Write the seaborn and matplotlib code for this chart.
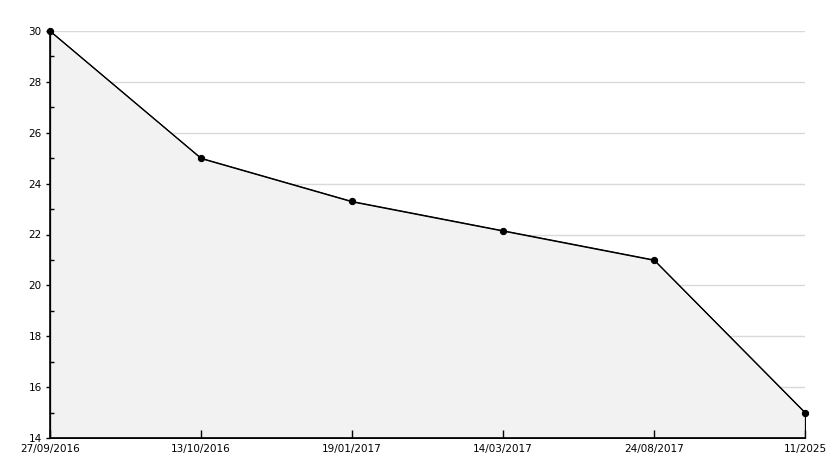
import numpy as np
import pandas as pd
import matplotlib
matplotlib.use("Agg")
import matplotlib.pyplot as plt
import seaborn as sns
from matplotlib.ticker import MultipleLocator

dates = ["27/09/2016", "13/10/2016", "19/01/2017", "14/03/2017", "24/08/2017", "11/2025"]
values = [30, 25, 23.3, 22.15, 21, 15]
grid_levels = [16, 18, 20, 22, 24, 26, 28, 30]

df = pd.DataFrame({"pos": np.arange(len(dates)), "value": values})

sns.set_style("ticks")
plt.rcParams['font.family'] = ['DejaVu Sans']
plt.rcParams['text.color'] = 'black'
plt.rcParams['xtick.color'] = 'black'
plt.rcParams['ytick.color'] = 'black'

fig = plt.figure(figsize=(8.34, 4.68), dpi=100)
ax = fig.add_axes([50 / 834, 30 / 468, 755 / 834, 407 / 468])

# grid sits behind the shaded area, ticks stay on top
for g in grid_levels:
    ax.axhline(g, color="#d9d9d9", linewidth=1, zorder=0.2)

ax.fill_between(df["pos"], df["value"], 14, facecolor="#f2f2f2",
                edgecolor="black", linewidth=0.9, zorder=1)
sns.lineplot(data=df, x="pos", y="value", ax=ax, color="black", linewidth=0.8,
             marker="o", markersize=4.5, markeredgecolor="black", zorder=3,
             clip_on=False)

ax.set_xlim(0, len(dates) - 1)
ax.set_ylim(14, 30)
ax.yaxis.set_major_locator(MultipleLocator(2))
ax.yaxis.set_minor_locator(MultipleLocator(1))
ax.set_xticks(df["pos"])
ax.set_xticklabels(dates)
ax.set_xlabel("")
ax.set_ylabel("")
ax.set_axisbelow(False)

ax.tick_params(axis="y", which="major", direction="out", length=3, width=1,
               labelsize=7.5, pad=3, left=True, colors="black")
ax.tick_params(axis="y", which="minor", direction="in", length=3, width=1,
               left=True, colors="black")
ax.tick_params(axis="x", which="major", direction="in", length=6, width=1,
               labelsize=7.5, pad=4, bottom=True, colors="black")

for side in ["top", "right"]:
    ax.spines[side].set_visible(False)
for side in ["left", "bottom"]:
    ax.spines[side].set_color("black")
    ax.spines[side].set_linewidth(1.2)

fig.savefig("out.png", dpi=100)
